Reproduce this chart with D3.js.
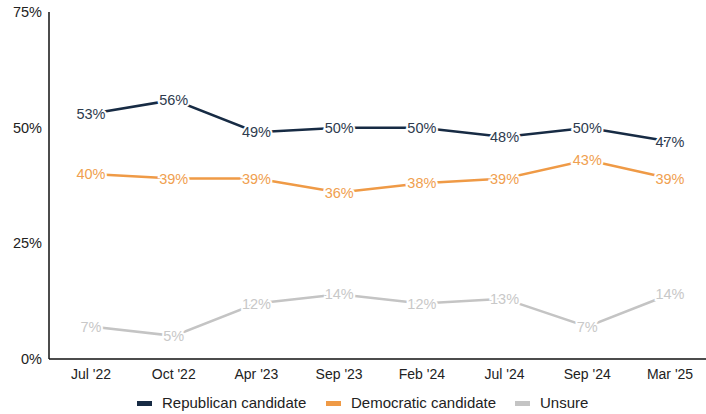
<!DOCTYPE html>
<html><head><meta charset="utf-8">
<script src="https://cdn.jsdelivr.net/npm/d3@7"></script>
<style>body{margin:0;background:#fff;} text{font-family:"Liberation Sans",Arial,sans-serif;}</style>
</head><body>
<svg id="c" width="706" height="414"></svg>
<script>
const categories = ["Jul '22","Oct '22","Apr '23","Sep '23","Feb '24","Jul '24","Sep '24","Mar '25"];
const republican = [53,56,49,50,50,48,50,47];
const democratic = [40,39,39,36,38,39,43,39];
const unsure = [7,5,12,14,12,13,7,14];
const yTicks = [0,25,50,75];
const seriesNames = ["Republican candidate","Democratic candidate","Unsure"];

const series = [
  {name: seriesNames[0], values: republican, color: "#172b44", text: "#2e3b4e"},
  {name: seriesNames[1], values: democratic, color: "#ef9a46", text: "#f0a04f"},
  {name: seriesNames[2], values: unsure, color: "#c4c4c4", text: "#c8c8c8"}
];

const svg = d3.select("#c");
const x = d3.scalePoint().domain(categories).range([91, 670]);
const y = d3.scaleLinear().domain([0, 75]).range([359, 12]);

// axes
svg.append("line").attr("x1",49).attr("x2",49).attr("y1",y(75)).attr("y2",y(0)).attr("stroke","#111").attr("stroke-width",1.5);
svg.append("line").attr("x1",49).attr("x2",706).attr("y1",y(0)).attr("y2",y(0)).attr("stroke","#111").attr("stroke-width",1.5);

svg.selectAll(".yt").data(yTicks).enter().append("text")
  .attr("x",42).attr("y",d=>y(d)).attr("dy","0.35em").attr("text-anchor","end")
  .attr("font-size",14.5).attr("fill","#222").text(d=>d+"%");

svg.selectAll(".xt").data(categories).enter().append("text")
  .attr("x",d=>x(d)).attr("y",374).attr("dy","0.35em").attr("text-anchor","middle")
  .attr("font-size",14).attr("fill","#222").text(d=>d);

const line = d3.line().x((d,i)=>x(categories[i])).y(d=>y(d));
series.forEach(s=>{
  svg.append("path").datum(s.values).attr("d",line).attr("fill","none")
    .attr("stroke",s.color).attr("stroke-width",2.5);
});
series.forEach(s=>{
  svg.selectAll(null).data(s.values).enter().append("text")
    .attr("x",(d,i)=>x(categories[i])).attr("y",d=>y(d)).attr("dy","0.35em")
    .attr("text-anchor","middle").attr("font-size",14.5).attr("fill",s.text)
    .attr("stroke","#fff").attr("stroke-width",4).attr("paint-order","stroke")
    .text(d=>d+"%");
});

// legend
const legX = [137, 326, 515];
series.forEach((s,i)=>{
  svg.append("rect").attr("x",legX[i]).attr("y",401).attr("width",15).attr("height",5).attr("fill",s.color);
  svg.append("text").attr("x",legX[i]+25).attr("y",403).attr("dy","0.35em")
    .attr("font-size",15).attr("fill","#222").text(s.name);
});
</script>
</body></html>
